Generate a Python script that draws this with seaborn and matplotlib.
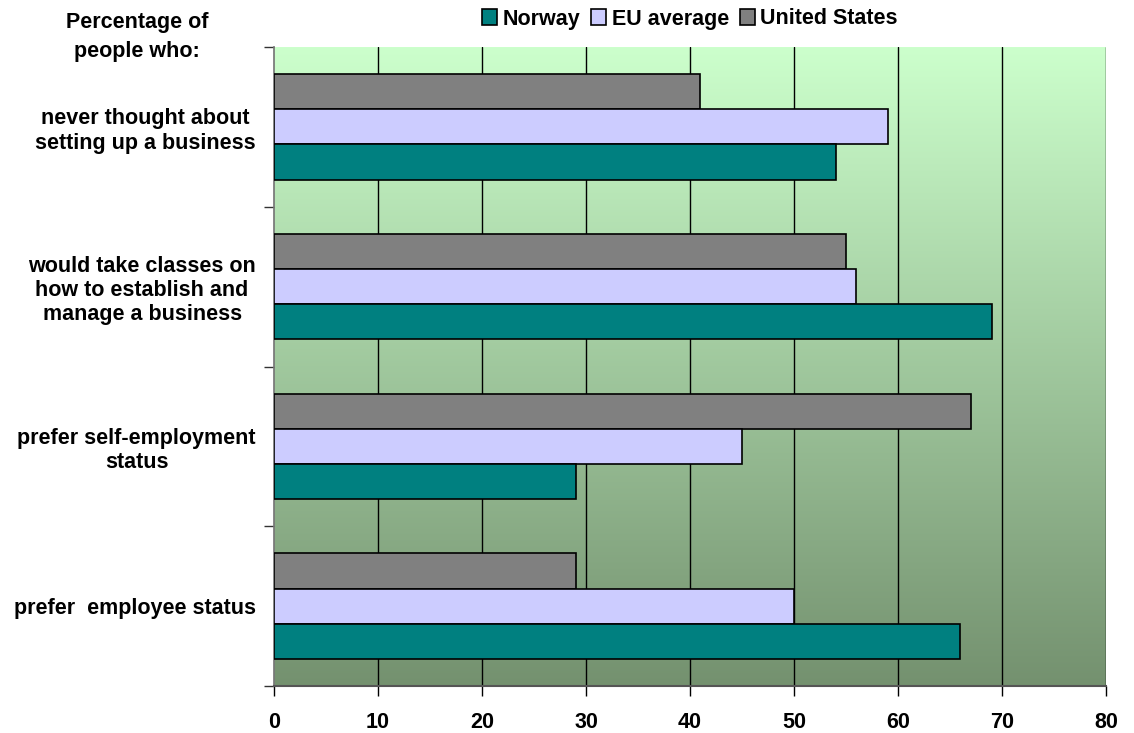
import numpy as np
import pandas as pd
import matplotlib
matplotlib.use("Agg")
import matplotlib.pyplot as plt
from matplotlib.colors import LinearSegmentedColormap
from matplotlib.patches import Patch
import seaborn as sns

categories = [
    "never thought about\nsetting up a business",
    "would take classes on\nhow to establish and\nmanage a business",
    "prefer self-employment\nstatus",
    "prefer  employee status",
]
norway = [54, 69, 29, 66]
eu_average = [59, 56, 45, 50]
united_states = [41, 55, 67, 29]
series_names = ["Norway", "EU average", "United States"]
x_ticks = [0, 10, 20, 30, 40, 50, 60, 70, 80]

colors = {"Norway": "#008080", "EU average": "#CCCCFF", "United States": "#808080"}

df = pd.DataFrame({
    "category": categories * 3,
    "series": ["Norway"] * 4 + ["EU average"] * 4 + ["United States"] * 4,
    "value": norway + eu_average + united_states,
})

sns.set_theme(style="white")
plt.rcParams["font.family"] = ["Liberation Sans", "DejaVu Sans"]
plt.rcParams["font.weight"] = "bold"
plt.rcParams["text.color"] = "black"
plt.rcParams["xtick.color"] = "black"
plt.rcParams["ytick.color"] = "black"

fig = plt.figure(figsize=(11.34, 7.33), dpi=100)
ax = fig.add_axes([274 / 1134, 1 - 686 / 733, (1106 - 274) / 1134, (686 - 47) / 733])

# vertical gradient backdrop behind the bars
grad = LinearSegmentedColormap.from_list("bg", ["#CCFFCC", "#74916F"])
ax.imshow(np.linspace(0, 1, 256).reshape(-1, 1), cmap=grad, aspect="auto",
          extent=[0, 80, 3.5, -0.5], zorder=0, interpolation="bilinear")

hue_order = ["United States", "EU average", "Norway"]
sns.barplot(data=df, y="category", x="value", hue="series", hue_order=hue_order,
            order=categories, orient="h", palette=colors, saturation=1, width=0.66,
            edgecolor="black", linewidth=1.2, ax=ax, legend=False, zorder=3)

ax.set_xlim(0, 80)
ax.set_ylim(3.5, -0.5)
ax.set_xticks(x_ticks)
ax.set_xticklabels([str(t) for t in x_ticks], fontsize=15.5, fontweight="bold")
for t in x_ticks[1:]:
    ax.axvline(t, color="black", lw=1.0, zorder=1)

ax.set_yticks(range(len(categories)))
ax.set_yticklabels(categories, fontsize=15.5, fontweight="bold", linespacing=1.2)
ax.set_yticks([-0.5, 0.5, 1.5, 2.5, 3.5], minor=True)
ax.tick_params(axis="y", which="major", length=0, pad=13)
ax.tick_params(axis="y", which="minor", length=7, width=1, color="#333333",
               direction="out", left=True)
ax.tick_params(axis="x", which="major", length=7, width=1, color="black",
               direction="out", bottom=True, pad=12)
for lbl in ax.get_yticklabels():
    lbl.set_horizontalalignment("right")
    lbl.set_multialignment("center")

ax.set_xlabel("")
ax.set_ylabel("")
for side in ["top", "right"]:
    ax.spines[side].set_visible(False)
ax.spines["left"].set_color("#777777")
ax.spines["bottom"].set_color("#555555")
ax.spines["bottom"].set_linewidth(1.5)

fig.text(137 / 1134, 1 - 37 / 733, "Percentage of\npeople who:", ha="center", va="center",
         fontsize=15.5, fontweight="bold", linespacing=1.5)

handles = [Patch(facecolor=colors[n], edgecolor="black", linewidth=1.2) for n in series_names]
fig.legend(handles, series_names, loc="center", bbox_to_anchor=(690 / 1134, 1 - 19 / 733),
           ncol=3, frameon=False, prop={"weight": "bold", "size": 15.5},
           handlelength=0.7, handleheight=0.7, handletextpad=0.25, columnspacing=0.5,
           borderaxespad=0, borderpad=0)

fig.savefig("out.png", dpi=100, facecolor="white")
